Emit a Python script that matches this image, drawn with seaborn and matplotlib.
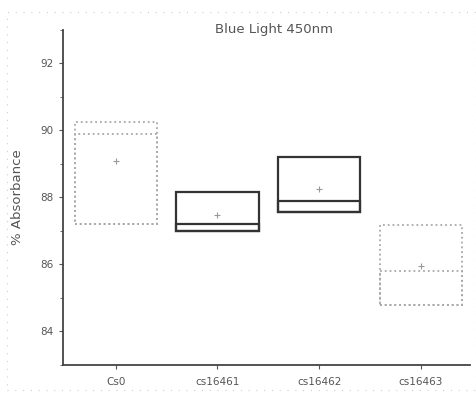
import matplotlib
matplotlib.use("Agg")
import matplotlib.pyplot as plt
import seaborn as sns
import pandas as pd
import numpy as np
from matplotlib.ticker import MultipleLocator

categories = ["Cs0", "cs16461", "cs16462", "cs16463"]
max_vals = [90.24, 88.15, 89.22, 87.19]
median_vals = [89.9, 87.22, 87.88, 85.79]
min_vals = [87.22, 87.0, 87.55, 84.8]
mean_vals = [89.1, 87.46, 88.24, 85.94]

sns.set_theme(style="white")
plt.rcParams["font.family"] = ["DejaVu Sans"]

df = pd.DataFrame({
    "cat": categories,
    "span": np.array(max_vals) - np.array(min_vals),
    "med": np.array(median_vals) - np.array(min_vals),
    "low": min_vals,
    "mean": mean_vals,
})

edge_colors = ["#a8a8a8", "#333333", "#333333", "#a8a8a8"]
styles = [":", "-", "-", ":"]
widths = [1.3, 1.6, 1.6, 1.3]

fig = plt.figure(figsize=(4.76, 3.94), dpi=100)
ax = fig.add_axes([0.132, 0.074, 0.855, 0.85])

sns.barplot(data=df, x="cat", y="span", bottom=df["low"].values, fill=False,
            width=0.81, ax=ax, errorbar=None, color="#333333")
sns.barplot(data=df, x="cat", y="med", bottom=df["low"].values, fill=False,
            width=0.81, ax=ax, errorbar=None, color="#333333")
for i, p in enumerate(ax.patches):
    k = i % 4
    p.set_edgecolor(edge_colors[k])
    p.set_linestyle(styles[k])
    p.set_linewidth(widths[k])

sns.scatterplot(data=df, x="cat", y="mean", marker="+", s=25, color="#999999",
                linewidth=0.8, ax=ax, zorder=5)

ax.set_ylim(83, 93)
ax.set_xlim(-0.52, 3.48)
ax.yaxis.set_major_locator(MultipleLocator(2))
ax.yaxis.set_minor_locator(MultipleLocator(1))
ax.tick_params(axis="both", which="major", direction="out", length=3, width=0.8,
               labelsize=7.5, color="#555555", labelcolor="#555555")
ax.tick_params(axis="y", which="minor", direction="out", length=2, width=0.6,
               color="#555555", left=True)
ax.tick_params(axis="x", bottom=True, pad=6)
ax.tick_params(axis="y", left=True)
ax.set_xlabel("")
ax.set_ylabel("% Absorbance", fontsize=9.5, color="#555555", labelpad=12)
ax.set_title("Blue Light 450nm", fontsize=9.5, color="#555555", pad=-2,
             x=0.52)
sns.despine(ax=ax)
for s in ["left", "bottom"]:
    ax.spines[s].set_color("#444444")
    ax.spines[s].set_linewidth(1.3)

border = plt.Rectangle((0.015, 0.01), 0.985, 0.96, transform=fig.transFigure,
                       fill=False, edgecolor="#cccccc", linestyle=(0, (1, 6)),
                       linewidth=0.8)
fig.add_artist(border)

fig.savefig("out.png", dpi=100)
